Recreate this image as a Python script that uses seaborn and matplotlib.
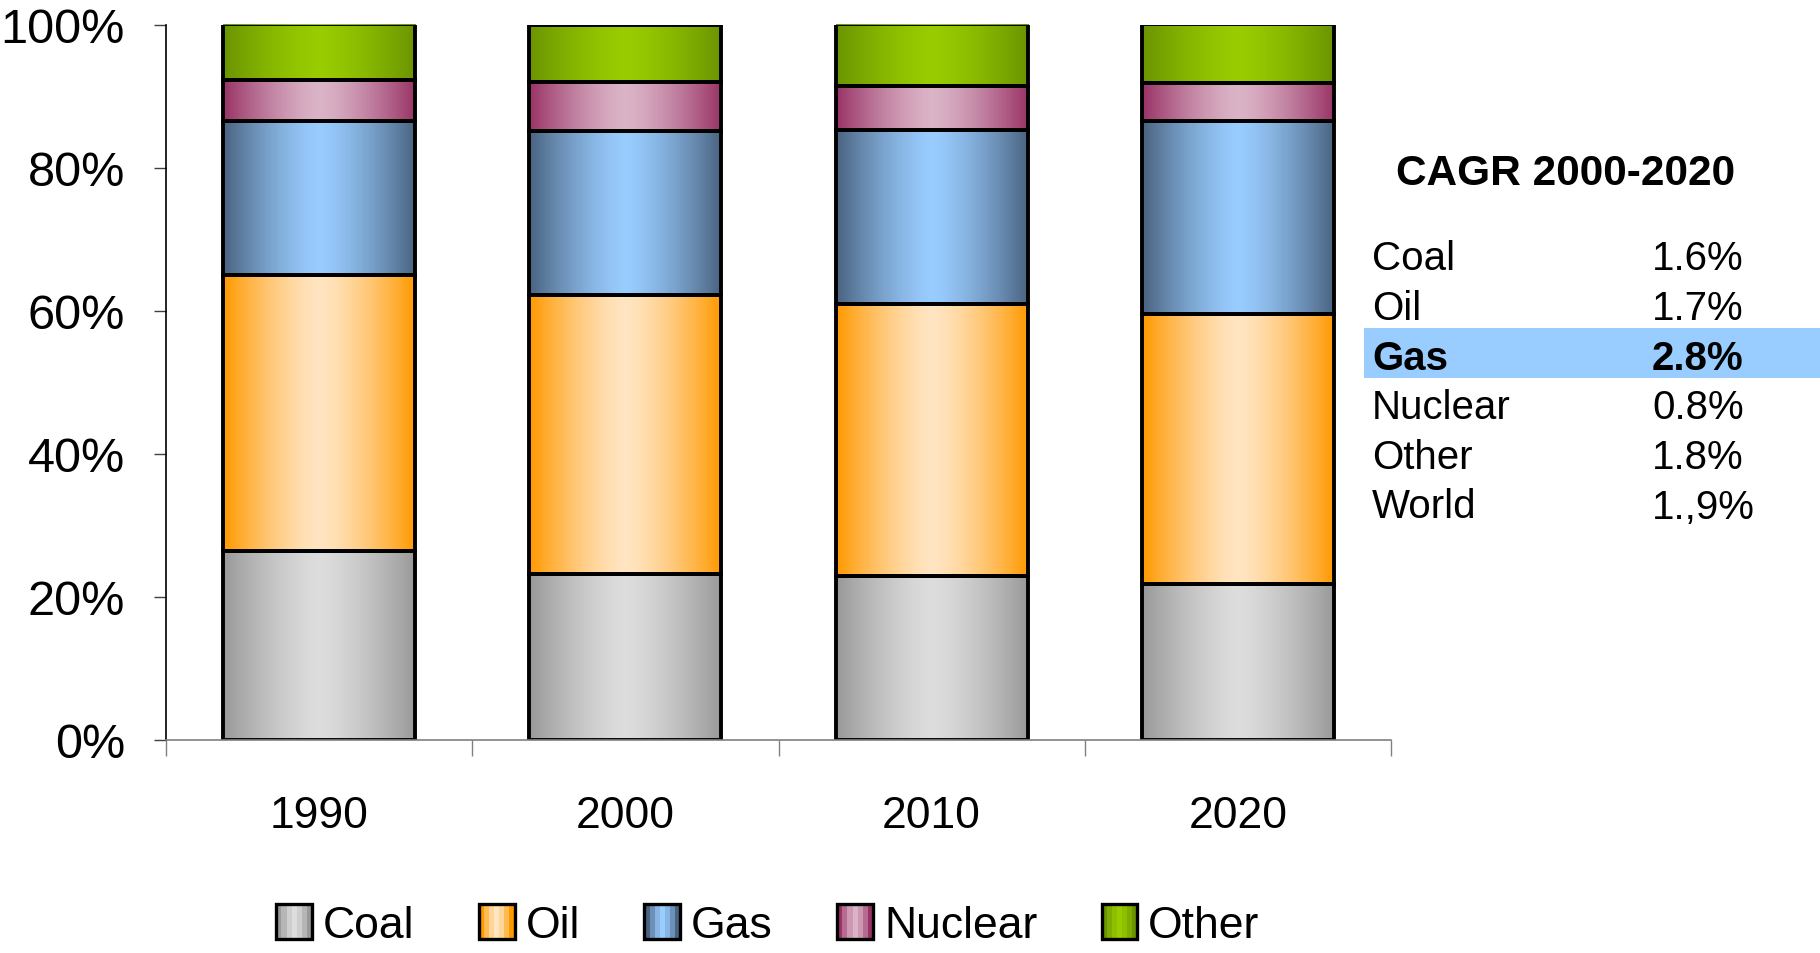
import numpy as np
import matplotlib.pyplot as plt
import matplotlib.colors as mcolors
from matplotlib.patches import Patch, Rectangle
from matplotlib.legend_handler import HandlerBase
import seaborn as sns


years = ["1990", "2000", "2010", "2020"]
coal = [26.4, 23.2, 22.8, 21.7]
oil = [38.5, 39.0, 38.1, 37.8]
gas = [21.6, 22.9, 24.3, 27.0]
nuclear = [5.8, 6.8, 6.2, 5.3]
other = [7.7, 8.1, 8.6, 8.2]

cagr_title = "CAGR 2000-2020"
cagr_labels = ["Coal", "Oil", "Gas", "Nuclear", "Other", "World"]
cagr_values = ["1.6%", "1.7%", "2.8%", "0.8%", "1.8%", "1.,9%"]
highlight = "Gas"

series = {"Coal": coal, "Oil": oil, "Gas": gas, "Nuclear": nuclear, "Other": other}

# (edge, centre) colours for the cylinder-like shading
shades = {
    "Coal": ("#999999", "#dddddd"),
    "Oil": ("#ff9900", "#ffe5c2"),
    "Gas": ("#4a6380", "#99ccff"),
    "Nuclear": ("#993366", "#dbb4c7"),
    "Other": ("#6b9400", "#99cc00"),
}


def shade_row(edge, centre, n=200):
    e = np.array(mcolors.to_rgb(edge))
    c = np.array(mcolors.to_rgb(centre))
    t = np.abs(np.linspace(-1, 1, n)) ** 1.4
    return (c + (e - c) * t[:, None])[None, :, :]


class ShadeHandler(HandlerBase):
    # legend box: facecolor holds the centre colour, edgecolor the edge colour
    def create_artists(self, legend, orig_handle, xdescent, ydescent, width, height, fontsize, trans):
        strip = shade_row(orig_handle.get_edgecolor(), orig_handle.get_facecolor(), n=7)[0]
        w = width / len(strip)
        arts = [Rectangle((-xdescent + i * w, -ydescent), w, height, facecolor=col,
                          edgecolor="none", transform=trans) for i, col in enumerate(strip)]
        arts.append(Rectangle((-xdescent, -ydescent), width, height, fill=False,
                              edgecolor="black", linewidth=2.4, transform=trans))
        return arts


sns.set_theme(style="white")
plt.rcParams["font.family"] = ["Liberation Sans", "DejaVu Sans"]
plt.rcParams["text.color"] = "black"
plt.rcParams["xtick.labelcolor"] = "black"
plt.rcParams["ytick.labelcolor"] = "black"

W, H = 1820, 954
fig = plt.figure(figsize=(W / 100, H / 100), dpi=100)
ax = fig.add_axes([166 / W, 1 - 740.5 / H, 1225 / W, 715 / H])
ax.set_facecolor("none")

bottom = np.zeros(len(years))
for name, vals in series.items():
    start = len(ax.patches)
    sns.barplot(x=years, y=vals, bottom=bottom, color=shades[name][1], width=0.627,
                errorbar=None, edgecolor="black", linewidth=2.8, ax=ax)
    for bar in ax.patches[start:]:
        x0, y0 = bar.get_x(), bar.get_y()
        im = ax.imshow(shade_row(*shades[name]), aspect="auto", zorder=0.5,
                       extent=[x0, x0 + bar.get_width(), y0, y0 + bar.get_height()])
        im.set_clip_path(bar)
        bar.set_facecolor("none")
    bottom = bottom + np.array(vals)

ax.set_xlim(-0.5, len(years) - 0.5)
ax.set_ylim(0, 100)
ax.set_xlabel("")
ax.set_ylabel("")

ax.set_xticks(np.arange(-0.5, len(years)), labels=[])
ax.set_xticks(range(len(years)), labels=years, minor=True)
ax.tick_params(axis="x", which="major", bottom=True, length=11.5, width=1, color="#808080")
ax.tick_params(axis="x", which="minor", bottom=True, length=0, pad=40, labelsize=32)

ax.set_yticks(range(0, 101, 20), labels=[f"{v}%" for v in range(0, 101, 20)])
ax.tick_params(axis="y", left=True, length=8.6, width=1, color="#404040", pad=21, labelsize=35)

sns.despine(ax=ax)
ax.spines["left"].set_color("black")
ax.spines["left"].set_linewidth(1.2)
ax.spines["bottom"].set_color("#808080")
ax.spines["bottom"].set_linewidth(1.2)

handles = [Patch(facecolor=c, edgecolor=e, label=name) for name, (e, c) in shades.items()]
fig.legend(handles=handles, loc="center", bbox_to_anchor=(768 / W, 1 - 926 / H), ncol=5,
           frameon=False, fontsize=32, handlelength=0.8, handleheight=0.82,
           handletextpad=0.25, columnspacing=1.45, borderpad=0.1,
           handler_map={Patch: ShadeHandler()})

# CAGR table on the right
fig.text(1566 / W, 1 - 185 / H, cagr_title, ha="center", va="baseline",
         fontsize=30.5, fontweight="bold")
for i, (lab, val) in enumerate(zip(cagr_labels, cagr_values)):
    base = 270.5 + 49.6 * i
    weight = "normal"
    if lab == highlight:
        weight = "bold"
        fig.add_artist(Rectangle((1364 / W, 1 - (base + 9) / H), (W - 1364) / W, 49.9 / H,
                                 transform=fig.transFigure, facecolor="#99ccff",
                                 edgecolor="none", zorder=0))
    fig.text(1372 / W, 1 - base / H, lab, ha="left", va="baseline", fontsize=29, fontweight=weight)
    fig.text(1652 / W, 1 - base / H, val, ha="left", va="baseline", fontsize=29, fontweight=weight)

fig.savefig("out.png", dpi=100)
